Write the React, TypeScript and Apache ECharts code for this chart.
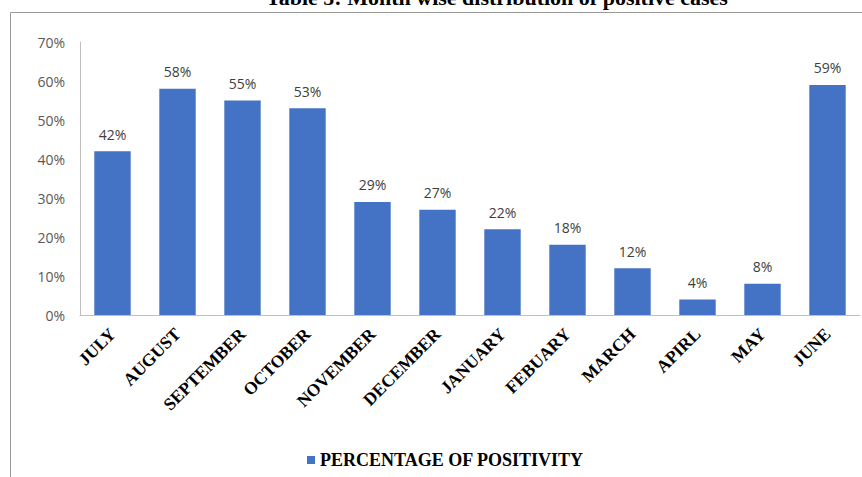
import React, { useEffect, useRef } from "react";
import * as echarts from "echarts";

const categories = ["JULY", "AUGUST", "SEPTEMBER", "OCTOBER", "NOVEMBER", "DECEMBER", "JANUARY", "FEBUARY", "MARCH", "APIRL", "MAY", "JUNE"];
const positivity = [42, 58, 55, 53, 29, 27, 22, 18, 12, 4, 8, 59];
const seriesName = "PERCENTAGE OF POSITIVITY";
const titleText = "Table 5: Month wise distribution of positive cases";

export default function App() {
  const ref = useRef<HTMLDivElement>(null);
  useEffect(() => {
    if (!ref.current) return;
    const chart = echarts.init(ref.current, null, { renderer: "svg" });
    chart.setOption({
      animation: false,
      backgroundColor: "#ffffff",
      graphic: [
        {
          type: "rect",
          shape: { x: 10.5, y: 12.5, width: 880, height: 500 },
          style: { fill: "none", stroke: "#9a9a9a", lineWidth: 1 },
          silent: true,
        },
        {
          type: "text",
          x: 497,
          y: 8,
          style: {
            text: titleText,
            fontFamily: "Liberation Serif",
            fontWeight: "bold",
            fontSize: 22,
            fill: "#000",
            textAlign: "center",
            textVerticalAlign: "bottom",
          },
        },
      ],
      grid: { left: 80, right: 2, top: 42, bottom: 162, containLabel: false },
      legend: {
        data: [seriesName],
        top: 446,
        left: 302,
        icon: "rect",
        itemWidth: 8,
        itemHeight: 8,
        itemGap: 5,
        textStyle: { fontFamily: "Liberation Serif", fontWeight: "bold", fontSize: 18, color: "#000" },
      },
      xAxis: {
        type: "category",
        data: categories,
        axisLine: { lineStyle: { color: "#bfbfbf", width: 1 } },
        axisTick: { show: false },
        axisLabel: {
          interval: 0,
          rotate: 45,
          margin: 16,
          fontFamily: "Liberation Serif",
          fontWeight: "bold",
          fontSize: 17.5,
          color: "#000",
        },
      },
      yAxis: {
        type: "value",
        min: 0,
        max: 70,
        interval: 10,
        axisLine: { show: true, lineStyle: { color: "#bfbfbf", width: 1 } },
        axisTick: { show: false },
        splitLine: { show: false },
        axisLabel: { formatter: "{value}%", fontFamily: "Open Sans", fontSize: 14, color: "#595959", margin: 15 },
      },
      series: [
        {
          name: seriesName,
          type: "bar",
          data: positivity,
          barWidth: "56%",
          itemStyle: { color: "#4472C4" },
          label: {
            show: true,
            position: "top",
            distance: 10,
            formatter: "{c}%",
            fontFamily: "Open Sans",
            fontSize: 14,
            color: "#404040",
          },
        },
      ],
    });
    return () => chart.dispose();
  }, []);
  return <div ref={ref} style={{ width: 862, height: 477, position: "absolute", left: 0, top: 0 }} />;
}
